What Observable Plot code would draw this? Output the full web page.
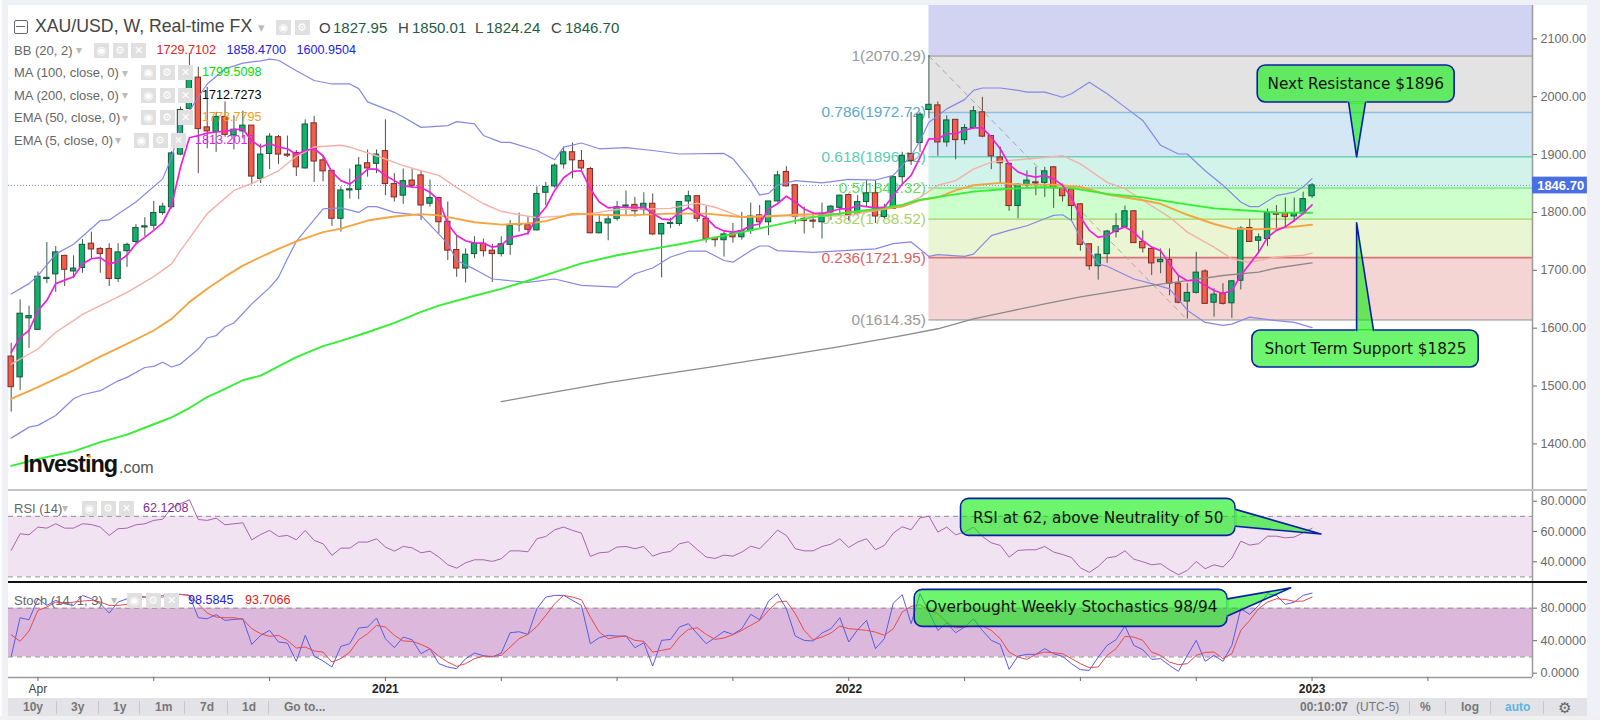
<!DOCTYPE html>
<html><head><meta charset="utf-8">
<script src="https://cdn.jsdelivr.net/npm/d3@7"></script>
<script src="https://cdn.jsdelivr.net/npm/@observablehq/plot@0.6"></script>
<style>
html,body{margin:0;padding:0;background:#f0f1f6;width:1600px;height:720px;overflow:hidden}
#stage{position:absolute;left:0;top:0;width:1600px;height:720px;overflow:hidden;font-family:"Liberation Sans",Arial,sans-serif}
#card{position:absolute;left:8px;top:5px;width:1579px;height:693px;background:#fff}
#left{position:absolute;left:0;top:0;width:2px;height:720px;background:#fff}
#stage>svg,.pl{position:absolute;left:0;background:transparent}
.t{position:absolute;white-space:nowrap;line-height:1}
.ic{position:absolute;width:15px;height:15px;background:#e0e0e0;color:#fff;font:11px/15px "DejaVu Sans";text-align:center}
.hr{position:absolute}
</style></head><body><div id="stage"><div id="left"></div><div id="card"></div></div>
<script>
const opens=[1551,1515,1617,1597,1685,1693,1725,1698,1704,1746,1737,1737,1685,1733,1749,1774,1777,1799,1809,1900,1979,2033,1947,1939,1965,1933,1940,1950,1858,1901,1930,1900,1903,1876,1954,1890,1872,1789,1838,1839,1885,1884,1906,1849,1829,1855,1864,1815,1825,1784,1735,1703,1728,1746,1734,1728,1744,1778,1778,1769,1834,1845,1883,1904,1889,1875,1764,1781,1789,1810,1813,1804,1815,1762,1780,1780,1819,1828,1789,1756,1752,1763,1757,1768,1795,1783,1819,1870,1847,1789,1786,1783,1800,1808,1830,1798,1818,1833,1792,1806,1861,1901,1920,1977,1985,1921,1960,1925,1946,1973,1932,1895,1884,1811,1847,1852,1851,1878,1842,1840,1814,1745,1707,1728,1766,1775,1802,1749,1737,1714,1718,1677,1646,1661,1698,1644,1660,1643,1682,1773,1751,1754,1799,1799,1793,1798,1827.95];
const highs=[1574,1649,1638,1697,1748,1741,1725,1725,1753,1766,1739,1746,1746,1747,1779,1791,1819,1816,1905,1982,2075,2051,2016,1973,1991,1967,1975,1950,1918,1936,1933,1932,1907,1960,1966,1898,1872,1844,1875,1895,1908,1908,1960,1867,1875,1875,1871,1856,1826,1818,1760,1737,1758,1754,1745,1758,1786,1799,1792,1844,1852,1884,1913,1920,1907,1878,1796,1796,1819,1837,1826,1834,1832,1780,1790,1818,1837,1829,1810,1756,1766,1781,1800,1816,1812,1819,1871,1879,1847,1809,1800,1816,1812,1830,1832,1829,1855,1855,1814,1861,1904,1973,1973,2071,1991,1967,1960,1952,1983,1999,1933,1913,1885,1849,1872,1878,1878,1879,1849,1841,1815,1746,1741,1769,1798,1811,1803,1768,1740,1737,1737,1691,1677,1731,1701,1668,1677,1682,1775,1788,1763,1806,1812,1825,1825,1835,1850.01];
const lows=[1455,1492,1565,1597,1677,1662,1672,1686,1695,1720,1695,1672,1679,1705,1746,1758,1770,1795,1806,1898,1978,1867,1910,1904,1930,1908,1927,1848,1850,1874,1883,1895,1862,1875,1852,1853,1776,1766,1823,1822,1861,1867,1829,1818,1814,1841,1786,1809,1763,1717,1688,1678,1720,1723,1679,1723,1726,1766,1760,1768,1812,1842,1875,1858,1872,1763,1763,1751,1785,1795,1792,1795,1760,1687,1772,1776,1806,1783,1747,1740,1723,1747,1752,1762,1773,1760,1818,1844,1779,1763,1772,1754,1786,1793,1785,1795,1809,1781,1789,1805,1849,1881,1904,1962,1897,1913,1891,1917,1943,1929,1874,1850,1802,1789,1841,1829,1826,1807,1818,1786,1733,1700,1683,1712,1756,1773,1747,1730,1691,1694,1656,1642,1616,1659,1642,1619,1640,1617,1666,1749,1730,1741,1768,1773,1783,1796,1824.24];
const closes=[1498,1625,1621,1689,1687,1731,1701,1703,1744,1736,1728,1685,1731,1744,1773,1776,1799,1810,1902,1977,2035,1944,1940,1965,1934,1943,1950,1862,1900,1931,1900,1898,1878,1952,1888,1871,1789,1838,1840,1881,1876,1900,1849,1826,1854,1846,1812,1825,1783,1734,1703,1727,1746,1733,1728,1745,1777,1780,1770,1832,1844,1881,1904,1890,1876,1764,1782,1788,1809,1812,1802,1815,1762,1780,1782,1818,1828,1789,1754,1752,1762,1757,1768,1793,1783,1819,1864,1845,1792,1785,1784,1798,1810,1829,1795,1818,1833,1793,1808,1861,1898,1889,1969,1986,1921,1959,1925,1946,1975,1931,1897,1885,1811,1848,1855,1850,1871,1842,1828,1811,1744,1707,1727,1767,1776,1802,1747,1738,1712,1718,1677,1644,1661,1696,1642,1658,1642,1681,1772,1749,1757,1799,1796,1792,1799,1823,1846.70];

const ema5=[1558,1584,1596,1630,1648,1677,1683,1689,1711,1720,1722,1711,1715,1726,1746,1757,1769,1782,1812,1878,1929,1933,1937,1939,1940,1943,1944,1924,1913,1919,1913,1910,1900,1907,1910,1898,1870,1855,1849,1861,1875,1875,1864,1855,1846,1844,1843,1835,1821,1780,1760,1751,1747,1747,1740,1743,1757,1760,1764,1791,1809,1838,1860,1871,1872,1841,1818,1808,1809,1809,1808,1809,1798,1789,1787,1800,1808,1798,1791,1775,1768,1766,1769,1777,1780,1806,1815,1828,1818,1806,1799,1798,1802,1806,1806,1812,1810,1808,1809,1829,1849,1864,1895,1927,1927,1936,1936,1942,1946,1946,1930,1910,1883,1870,1864,1861,1864,1858,1847,1826,1792,1769,1757,1760,1769,1775,1766,1751,1740,1734,1711,1691,1682,1683,1674,1665,1660,1665,1691,1711,1731,1757,1769,1775,1786,1798,1813.2];

const basisIdx=[0,3,5,7,8,10,13,16,18,19,22,25,27,30,32,34,37,38,41,44,46,48,50,53,55,57,59,62,65,68,71,74,77,79,82,86,90,94,98,100,102,104,106,108,110,113,116,118,120,123,125,127,130,132,135,137,139,142,145,146];
const basisVal=[1538,1564,1593,1613,1624,1639,1662,1689,1711,1734,1798,1838,1850,1872,1897,1913,1916,1913,1898,1881,1872,1864,1843,1815,1802,1796,1791,1794,1798,1805,1806,1807,1816,1809,1792,1795,1793,1795,1806,1812,1826,1847,1855,1875,1887,1891,1895,1898,1884,1852,1841,1821,1792,1766,1740,1720,1714,1723,1726,1729.7];

const upperIdx=[0,2,3,5,7,10,11,14,17,18,19,20,22,24,26,28,29,30,32,34,36,38,39,40,41,43,44,46,49,50,52,53,55,56,59,61,62,64,66,69,72,75,80,81,83,84,85,86,88,91,94,97,99,100,101,102,103,104,105,107,108,109,111,113,114,116,118,119,121,123,125,127,129,131,132,134,136,138,139,140,142,144,145,146];
const upperVal=[1659,1677,1691,1728,1745,1786,1787,1818,1858,1895,1950,1976,2022,2048,2058,2062,2065,2063,2045,2028,2022,2022,2014,1991,1985,1973,1965,1947,1950,1957,1953,1933,1921,1921,1907,1891,1913,1920,1910,1912,1907,1901,1902,1893,1855,1830,1833,1847,1855,1851,1857,1856,1864,1881,1898,1924,1956,1967,1979,1995,2011,2015,2015,2011,2008,2008,1999,2005,2025,2005,1982,1959,1916,1901,1901,1872,1847,1818,1810,1810,1829,1835,1844,1858.47];

const lowerIdx=[0,2,3,5,7,8,10,12,13,15,16,17,18,19,21,22,23,24,25,27,29,30,31,32,35,37,39,40,41,43,46,49,50,52,54,56,58,61,64,68,70,72,74,76,78,80,81,83,84,85,86,90,97,99,101,103,104,107,108,110,112,114,116,117,118,119,120,122,123,126,128,130,132,134,136,137,139,142,144,146];
const lowerVal=[1410,1429,1432,1449,1478,1485,1492,1509,1515,1532,1534,1541,1533,1538,1564,1583,1587,1602,1609,1642,1670,1688,1720,1750,1806,1808,1800,1810,1810,1800,1795,1746,1717,1702,1685,1682,1679,1685,1674,1671,1694,1704,1723,1733,1733,1717,1714,1734,1742,1742,1734,1731,1737,1746,1749,1724,1727,1724,1728,1760,1769,1777,1789,1795,1796,1786,1757,1711,1707,1685,1677,1668,1631,1610,1605,1607,1619,1613,1610,1600.95];

const ema50Idx=[0,3,7,10,13,16,18,20,22,24,26,28,30,32,35,37,40,43,46,48,52,55,58,60,63,66,69,74,78,82,85,88,93,98,100,102,104,106,108,111,113,117,120,123,127,129,132,135,137,140,142,146];
const ema50Val=[1478,1498,1527,1551,1573,1596,1616,1645,1668,1689,1708,1723,1737,1750,1766,1772,1786,1793,1797,1795,1783,1779,1781,1785,1798,1796,1795,1798,1798,1792,1793,1796,1798,1806,1810,1821,1826,1838,1847,1851,1848,1848,1844,1831,1821,1815,1796,1780,1772,1771,1772,1778.8];

const ma100Idx=[0,3,7,10,13,16,18,20,22,24,26,28,30,32,35,37,40,43,46,48,52,55,58,61,64,68,72,75,78,82,86,90,94,97,100,102,105,108,112,116,119,123,127,131,135,139,142,146];
const ma100Val=[1362,1374,1387,1403,1416,1434,1446,1462,1481,1495,1510,1518,1534,1550,1569,1578,1593,1609,1628,1639,1656,1668,1682,1697,1712,1726,1737,1745,1754,1766,1779,1792,1800,1806,1813,1822,1829,1836,1841,1844,1842,1832,1826,1816,1807,1803,1800,1799.5];

const ma200Idx=[55,60,67,73,79,86,93,100,104,108,112,116,120,124,128,132,136,140,142,146];
const ma200Val=[1473,1487,1506,1520,1534,1551,1568,1587,1599,1616,1629,1642,1654,1664,1674,1682,1691,1697,1704,1712.7];

const rsi=[47.5,58.5,57.8,62.9,62.2,65.1,62.2,62.2,65.1,64.6,62.9,57.4,61.8,62.2,64.4,65.1,67.3,68.1,75.6,78.3,80.9,67.9,67.3,68.8,64.4,65.1,65.7,54.5,58,60.7,56.7,57.4,54.5,60.7,54.1,51.9,44.2,49,49,53,53,55.2,49.7,47,50.1,49.2,45.9,47,43.1,38,35.8,39.3,41.3,41.3,40.2,42,47.2,47.2,46.6,55.2,56.7,61.1,62.9,60.7,58.9,43.5,45.9,46.4,49.7,50.1,48.6,50.1,43.7,45.9,46.8,51.9,53.2,48.1,43.1,42.2,44.4,43.7,46.4,50.3,48.6,54.5,60.9,57.4,48.6,47.2,47.2,50.1,51.6,55.2,49.4,53,55.2,47.9,50.8,58.9,63.1,61.1,69,70.1,59.6,62.9,57.8,59.6,62.9,56.7,52.5,50.8,43.1,47.5,47.9,47.9,50.1,46.4,44.8,42.8,36,33,36.9,42.6,43.5,47.2,41.7,40,38,38.7,34.7,31.4,34.3,40.2,35.4,38,36.5,42.4,53.6,51,51.9,56.9,56.9,55.8,56.3,59.1,62.12];
const stochK=[20.7,68.3,65.8,91.6,83.4,89.6,85.5,83.4,95.8,91.6,85.5,74,87.5,91.6,95.8,93.7,91.6,95.8,97.8,97,95.8,68.3,67,72,65,66.2,67,35.5,46.6,52.7,38.4,37.1,14.6,46.6,21.1,15,7.6,33,36.3,55.6,56.8,67.9,42.4,31.4,44.5,41.2,24,30.2,11.7,7.6,5.5,17.9,24.8,21.5,19.9,24.8,49.8,51,47.8,79.3,93.7,95.8,95.8,89.6,83.4,36.3,43.7,46.6,45.7,45.7,31.4,37.5,8.8,40.4,41.6,56.8,60.9,48.6,36.3,43.7,51.5,47.8,54.8,72.4,65.8,88.8,97.8,79.3,45.7,40.4,39.6,49.4,54.8,68.3,38.4,53.5,65,30.2,42.5,86.3,96.6,60.9,97.8,75.2,52.7,61.7,49.8,56.8,67,52.7,40.4,35.5,4.7,21.1,23.2,23.2,30.2,24,20.7,11.7,4.3,3.5,19.9,34.2,41.2,58,34.2,28.9,17,17.9,9.6,2.3,21.9,40.4,14.6,21.9,14.6,34.2,79.4,72.4,83.4,97.8,95.8,84.7,87.5,95.8,98.58];
const stochD=[47.4,39.2,51.9,77.3,81.4,87.5,85.5,87.5,88.8,89.6,87.5,83.4,83.4,84.7,92.9,93.7,93.7,93.7,95.8,97,95.8,85.5,74,69.1,68.3,68.3,66.2,54.8,48.6,45.3,46.6,40.4,31,32.2,27.3,26,13.7,17.9,26,41.2,48.6,58.9,56.8,46.6,39.6,39.2,35.5,30.2,20.7,13.7,8.4,11.7,17.9,21.1,20.7,22,32.2,42.4,47.8,57.6,71.1,85.5,95.8,93.7,90.4,69.1,50.6,42.5,44.5,45.7,40.4,39.2,26,28.1,30.2,44.5,53.9,56,47.8,41.6,43.3,47.4,52.7,58.9,65,77.3,87.5,88.8,73.2,52.7,41.2,44.5,49.4,58,54.8,53.9,52.7,50.6,46.6,54.8,75.2,82.2,84.3,77.3,73.2,62.9,55.6,56.8,58,58,52.7,42.5,26,19.9,17,23.2,26,25.2,24,17.9,11.7,6.8,7.6,22,30.2,45.3,44.5,40.4,26,21.9,13.7,10.5,11.7,21.9,25.6,26,17.9,24,52.7,65,79.4,87.5,91.6,90.8,88.4,88.8,93.71];

const fibRatios=["1","0.786","0.618","0.5","0.382","0.236","0"];
const fibPrices=[2070.29,1972.72,1896.12,1842.32,1788.52,1721.95,1614.35];
const fibLineColors=["#a8a8a8","#8fbfdc","#6fd0b8","#80e480","#b4dc80","#d87474","#bdb4b4"];
const fibTextColors=["#9a9a9a","#5aa8d2","#58cdb0","#5fe05f","#a8d26a","#dc6262","#9a9a9a"];
const fibFills=["#e3e3e3","#d3e7f5","#d1f3ea","#ccffcc","#e9f5d3","#f5d4d4"];
const fibTopFill="#d2d3f3";
const fibStartIndex=103, fibEndIndex=132;
const lastClose=1846.70;

const priceTicks=[1400,1500,1600,1700,1800,1900,2000,2100];
const rsiTicks=[40,60,80];
const stochTicks=[0,40,80];
const timeTicks=[3,16,29,42,55,68,81,94,107,120,133,146,159];
const monthLabels={3:"Apr"};
const yearLabels={42:"2021",94:"2022",146:"2023"};

const xDomain=[-0.303,170.74];
const FONT='"Liberation Sans",Arial,sans-serif';
const CALL='"DejaVu Sans",Verdana,sans-serif';
const bars=opens.map((o,i)=>({i,open:o,high:highs[i],low:lows[i],close:closes[i]}));
const up=bars.filter(d=>d.close>=d.open), down=bars.filter(d=>d.close<d.open);
const series=(idx,val)=>idx.map((i,k)=>({i,v:val[k]}));
const full=val=>val.map((v,i)=>({i,v}));
const fibBands=fibFills.map((fill,k)=>({hi:fibPrices[k],lo:fibPrices[k+1],fill}));
const fibRows=fibPrices.map((p,k)=>({p,ratio:fibRatios[k],line:fibLineColors[k],text:fibTextColors[k],
  label:fibRatios[k]+"("+p.toFixed(2)+")"}));

const GREEN="#00ed00", EDGE="#0a1fa8";
function callout(b,tail,text,tx,ty){
  const pts=tail.map(t=>({x:t[0],y:t[1]}));
  return [
    Plot.rect([b],{x1:"x1",x2:"x2",y1:"y1",y2:"y2",fill:GREEN,fillOpacity:.57,stroke:EDGE,strokeWidth:1.6,rx:8}),
    Plot.line([pts[0],pts[2]],{x:"x",y:"y",stroke:"#70f470",strokeWidth:2.4}),
    Plot.line(pts,{x:"x",y:"y",fill:GREEN,fillOpacity:.57,stroke:"none"}),
    Plot.line(pts,{x:"x",y:"y",stroke:EDGE,strokeWidth:1.6,curve:"linear"}),
    Plot.text([text],{x:tx,y:ty,text:d=>d,fontFamily:CALL,fontSize:15.3,fill:"#111",textAnchor:"middle",lineAnchor:"middle"})
  ];
}
function place(svg,top){svg.classList.add("pl");svg.style.top=top+"px";document.getElementById("stage").appendChild(svg);}

const xScale={type:"linear",domain:xDomain};
const rightLabel={anchor:"right",tickSize:4,tickPadding:4,label:null,fontSize:12.6};

const main=Plot.plot({
  width:1600,height:485,marginLeft:8,marginRight:68,marginTop:0,marginBottom:0,
  style:{fontFamily:FONT,color:"#6a6a6a",background:"transparent",overflow:"visible"},
  x:{...xScale,axis:null},
  y:{domain:[1319.5,2157.6],axis:null},
  marks:[
    Plot.rect([{}],{x1:fibStartIndex,x2:xDomain[1],y1:fibPrices[0],y2:2157.6,fill:fibTopFill}),
    ...fibBands.map(b=>Plot.rect([b],{x1:fibStartIndex,x2:xDomain[1],y1:"lo",y2:"hi",fill:b.fill})),
    ...fibRows.map(r=>Plot.ruleY([r.p],{x1:fibStartIndex,x2:xDomain[1],stroke:r.line,strokeWidth:1.6})),
    ...fibRows.map(r=>Plot.text([r],{x:fibStartIndex,y:"p",text:"label",dx:-3,textAnchor:"end",lineAnchor:"middle",fill:r.text,fontSize:15.4,fontFamily:FONT})),
    Plot.line([{x:fibStartIndex,y:fibPrices[0]},{x:fibEndIndex,y:fibPrices[6]}],{x:"x",y:"y",stroke:"#a8a8a8",strokeDasharray:"5,5",strokeWidth:1}),
    Plot.ruleY([lastClose],{x1:xDomain[0],x2:xDomain[1],stroke:"#6f8fe0",strokeDasharray:"1,2",strokeWidth:1}),
    Plot.ruleX(up,{x:"i",y1:"low",y2:"high",stroke:"#3d5a4a",strokeWidth:1}),
    Plot.ruleX(down,{x:"i",y1:"low",y2:"high",stroke:"#5a4a45",strokeWidth:1}),
    Plot.rect(up,{x1:d=>d.i-.3,x2:d=>d.i+.3,y1:"open",y2:"close",fill:"#0fb26c",stroke:"#17563a",strokeWidth:1}),
    Plot.rect(down,{x1:d=>d.i-.3,x2:d=>d.i+.3,y1:"open",y2:"close",fill:"#f25c4c",stroke:"#7a2d24",strokeWidth:1}),
    Plot.line(series(upperIdx,upperVal),{x:"i",y:"v",stroke:"#8788e4",strokeWidth:1.2}),
    Plot.line(series(lowerIdx,lowerVal),{x:"i",y:"v",stroke:"#8788e4",strokeWidth:1.2}),
    Plot.line(series(basisIdx,basisVal),{x:"i",y:"v",stroke:"#f6b0a8",strokeWidth:1.4}),
    Plot.line(series(ma200Idx,ma200Val),{x:"i",y:"v",stroke:"#8a8a8a",strokeWidth:1.3}),
    Plot.line(series(ema50Idx,ema50Val),{x:"i",y:"v",stroke:"#f5a53f",strokeWidth:1.9}),
    Plot.line(series(ma100Idx,ma100Val),{x:"i",y:"v",stroke:"#35ee35",strokeWidth:1.9}),
    Plot.line(full(ema5),{x:"i",y:"v",stroke:"#ee22dd",strokeWidth:1.7}),
    ...callout({x1:139.9,x2:162,y1:1990,y2:2054},[[150.1,1990],[151,1896],[152,1990]],"Next Resistance $1896",150.9,2022),
    ...callout({x1:139.3,x2:164.7,y1:1532,y2:1596},[[151,1596],[151,1782],[152.9,1596]],"Short Term Support $1825",152,1564),
    Plot.ruleX([xDomain[1]],{stroke:"#9a9a9a",strokeWidth:1.5}),
    Plot.axisY(priceTicks,{...rightLabel,tickFormat:d=>d.toFixed(2)}),
    Plot.rect([{}],{x1:xDomain[1],x2:176.9,y1:1832,y2:1861,fill:"#4a6fe3"}),
    Plot.text([lastClose.toFixed(2)],{x:173.9,y:lastClose,text:d=>d,fill:"#fff",fontSize:13,fontWeight:"bold",fontFamily:FONT,lineAnchor:"middle"})
  ]
});
place(main,5);

const rsiPanel=Plot.plot({
  width:1600,height:91,marginLeft:8,marginRight:68,marginTop:0,marginBottom:0,
  style:{fontFamily:FONT,color:"#6a6a6a",background:"transparent",overflow:"visible"},
  x:{...xScale,axis:null},
  y:{domain:[26.3,86.4],axis:null},
  marks:[
    Plot.rect([{}],{x1:xDomain[0],x2:xDomain[1],y1:30,y2:70,fill:"#f1e3f2"}),
    Plot.ruleY([30,70],{stroke:"#8f8f8f",strokeDasharray:"5,4",strokeWidth:1}),
    Plot.line(full(rsi),{x:"i",y:"v",stroke:"#a765ad",strokeWidth:1}),
    ...callout({x1:106.6,x2:137.4,y1:57.1,y2:81.5},[[137.4,74.6],[147,58.3],[137.4,63.4]],"RSI at 62, above Neutrality of 50",122,69),
    Plot.ruleX([xDomain[1]],{stroke:"#9a9a9a",strokeWidth:1.5}),
    Plot.axisY(rsiTicks,{...rightLabel,tickFormat:d=>d.toFixed(4)})
  ]
});
place(rsiPanel,491);

const stochPanel=Plot.plot({
  width:1600,height:115,marginLeft:8,marginRight:68,marginTop:0,marginBottom:21,
  style:{fontFamily:FONT,color:"#6a6a6a",background:"transparent",overflow:"visible"},
  x:{...xScale,axis:null},
  y:{domain:[-5.3,110.4],axis:null},
  marks:[
    Plot.rect([{}],{x1:xDomain[0],x2:xDomain[1],y1:20,y2:80,fill:"#dcb9dc"}),
    Plot.ruleY([20,80],{stroke:"#8f8f8f",strokeDasharray:"5,4",strokeWidth:1}),
    Plot.line(full(stochK),{x:"i",y:"v",stroke:"#5a5ae6",strokeWidth:1}),
    Plot.line(full(stochD),{x:"i",y:"v",stroke:"#e84a4a",strokeWidth:1}),
    ...callout({x1:101.4,x2:136.5,y1:57,y2:102.5},[[136.5,91.5],[143.6,105],[136.5,70.5]],"Overbought Weekly Stochastics 98/94",119,81),
    Plot.ruleX([xDomain[1]],{stroke:"#9a9a9a",strokeWidth:1.5}),
    Plot.ruleY([-5.3],{stroke:"#9a9a9a",strokeWidth:1.5}),
    Plot.axisY(stochTicks,{...rightLabel,tickFormat:d=>d.toFixed(4)}),
    Plot.axisX(timeTicks,{anchor:"bottom",tickSize:4,tickPadding:3,label:null,fontSize:12,tickFormat:()=>""}),
    Plot.axisX(Object.keys(monthLabels).map(Number),{anchor:"bottom",tickSize:0,tickPadding:7,label:null,fontSize:12,tickFormat:d=>monthLabels[d],fill:"#444"}),
    Plot.axisX(Object.keys(yearLabels).map(Number),{anchor:"bottom",tickSize:0,tickPadding:7,label:null,fontSize:12,fontWeight:"bold",tickFormat:d=>yearLabels[d],fill:"#222"})
  ]
});
place(stochPanel,583);

const stage=document.getElementById("stage");
function T(txt,x,cy,size,color,extra={}){
  const e=document.createElement("div");e.className="t";e.textContent=txt;
  e.style.left=x+"px";e.style.top=(cy-size/2)+"px";e.style.fontSize=size+"px";e.style.color=color;
  Object.assign(e.style,extra);stage.appendChild(e);return e;
}
function icons(x,cy,n){
  ["\u25C9","\u2699","\u2715"].slice(0,n).forEach((g,k)=>{
    const e=document.createElement("div");e.className="ic";e.textContent=g;
    e.style.left=(x+k*18.5)+"px";e.style.top=(cy-7.5)+"px";stage.appendChild(e);
  });
}
function HR(x,y,w,h,c){const e=document.createElement("div");e.className="hr";
  Object.assign(e.style,{left:x+"px",top:y+"px",width:w+"px",height:h+"px",background:c});stage.appendChild(e);return e;}

HR(8,489,1579,2,"#c2c2c2");
HR(8,581,1579,2,"#111");
HR(8,698,1579,18,"#e3e3e7");
HR(0,716,1600,4,"#f0f0f0");

// header
const box=HR(14,20,12,12,"#fff");box.style.border="1px solid #666";box.style.borderRadius="2px";
HR(16,26,9,1,"#666");
const HDR="#444";
T("XAU/USD, W, Real-time FX",35,27,17.7,HDR);
T("\u25BE",258,27,13,"#bbb");
icons(276,27,2);
T("O",319,27,15,HDR);T("1827.95",333,27,15,"#1f5c44");
T("H",398,27,15,HDR);T("1850.01",412,27,15,"#1f5c44");
T("L",475,27,15,HDR);T("1824.24",486,27,15,"#1f5c44");
T("C",551,27,15,HDR);T("1846.70",565,27,15,"#1f5c44");
const LBL="#666", NUM=12.6;
T("BB (20, 2)",14,50,13,LBL);T("\u25BE",76,50,12,"#bbb");icons(94,50,3);
T("1729.7102",156.5,50,NUM,"#e02222");T("1858.4700",226.5,50,NUM,"#2222dd");T("1600.9504",296.5,50,NUM,"#2222dd");
T("MA (100, close, 0)",14,72.5,13,LBL);T("\u25BE",122,72.5,12,"#bbb");icons(141,72.5,3);T("1799.5098",202,72.5,NUM,"#00e000");
T("MA (200, close, 0)",14,95,13,LBL);T("\u25BE",122,95,12,"#bbb");icons(141,95,3);T("1712.7273",202,95,NUM,"#000");
T("EMA (50, close, 0)",14,117.5,13,LBL);T("\u25BE",122,117.5,12,"#bbb");icons(141,117.5,3);T("1778.7795",202,117.5,NUM,"#f5a020");
T("EMA (5, close, 0)",14,140,13,LBL);T("\u25BE",115,140,12,"#bbb");icons(134,140,3);T("1813.2017",195,140,NUM,"#e020e0");
// RSI / Stoch legends
T("RSI (14)",14,508,13,LBL);T("\u25BE",62,508,12,"#bbb");icons(82,508,3);T("62.1208",143,508,NUM,"#7b2f8f");
T("Stoch (14, 1, 3)",14,600,13,LBL);T("\u25BE",111,600,12,"#bbb");icons(127,600,3);T("98.5845",188,600,NUM,"#2222dd");T("93.7066",245,600,NUM,"#e02222");
// logo
T("Investing",23,465,23.5,"#111",{fontWeight:"bold",letterSpacing:"-1px"});
T(".com",119,468,16,"#555");
const dot=HR(88,455,3,3,"#f5a020");dot.style.borderRadius="50%";
// footer
const F="#777";
[["10y",23],["3y",71],["1y",113],["1m",155],["7d",200],["1d",242],["Go to...",284]].forEach(([t,x])=>T(t,x,707,12,F,{fontWeight:"bold"}));
[56,98,139,184,227,268].forEach(x=>HR(x,701,1,13,"#c8c8cc"));
T("00:10:07",1300,707,12,"#777",{fontWeight:"bold"});
T("(UTC-5)",1356,707,12,"#777");
T("%",1420,707,12,"#777",{fontWeight:"bold"});
T("log",1461,707,12,"#777",{fontWeight:"bold"});
T("auto",1505,707,12,"#5ab5e0",{fontWeight:"bold"});
T("\u2699",1558,707,15,"#666");
[1409,1445,1490,1543].forEach(x=>HR(x,701,1,13,"#c8c8cc"));
</script></body></html>
